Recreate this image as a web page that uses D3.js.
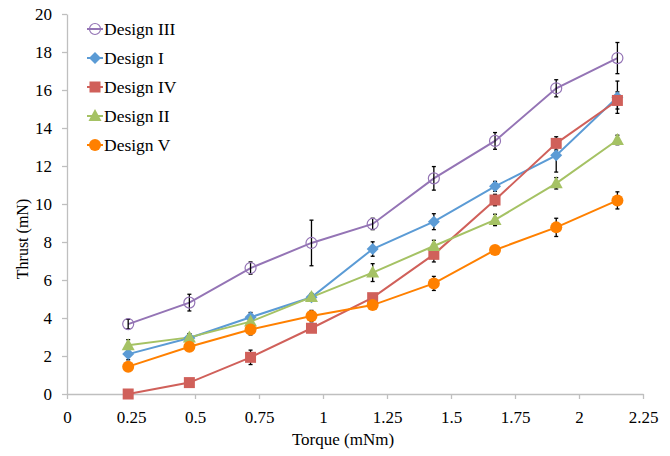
<!DOCTYPE html>
<html><head><meta charset="utf-8">
<script src="https://cdn.jsdelivr.net/npm/d3@7"></script>
<style>body{margin:0;background:#fff;} svg{display:block;} text{font-family:"Liberation Serif","DejaVu Serif","Times New Roman",serif;}</style>
</head><body>
<svg id="c" width="670" height="456"></svg>
<script>
const torque = [0.239, 0.478, 0.717, 0.955, 1.194, 1.433, 1.672, 1.911, 2.15];
const seriesNames = ["Design III", "Design I", "Design IV", "Design II", "Design V"];
const designIII = [3.68, 4.81, 6.63, 7.95, 8.95, 11.35, 13.32, 16.09, 17.68];
const designIIIerr = [0.25, 0.44, 0.32, 1.2, 0.3, 0.62, 0.44, 0.45, 0.82];
const designI = [2.1, 2.95, 4.04, 5.09, 7.63, 9.07, 10.93, 12.56, 15.62];
const designIerr = [0.3, 0.2, 0.25, 0.2, 0.38, 0.42, 0.26, 0.88, 0.85];
const designIV = [0.0, 0.6, 1.93, 3.46, 5.07, 7.35, 10.21, 13.19, 15.45];
const designIVerr = [0.15, 0.2, 0.38, 0.2, 0.2, 0.4, 0.3, 0.35, 0.45];
const designII = [2.56, 2.98, 3.81, 5.1, 6.39, 7.79, 9.16, 11.09, 13.37];
const designIIerr = [0.3, 0.2, 0.25, 0.15, 0.47, 0.3, 0.3, 0.3, 0.25];
const designV = [1.44, 2.49, 3.39, 4.1, 4.68, 5.82, 7.58, 8.77, 10.19];
const designVerr = [0.2, 0.2, 0.28, 0.3, 0.15, 0.37, 0.2, 0.48, 0.45];
const xTicks = [0, 0.25, 0.5, 0.75, 1, 1.25, 1.5, 1.75, 2, 2.25];
const yTicks = [0, 2, 4, 6, 8, 10, 12, 14, 16, 18, 20];

const series = [
  {name: seriesNames[0], values: designIII, err: designIIIerr, color: "#9474B5", marker: "openCircle"},
  {name: seriesNames[1], values: designI, err: designIerr, color: "#5B9BD5", marker: "diamond"},
  {name: seriesNames[2], values: designIV, err: designIVerr, color: "#D0605A", marker: "square"},
  {name: seriesNames[3], values: designII, err: designIIerr, color: "#A5C264", marker: "triangle"},
  {name: seriesNames[4], values: designV, err: designVerr, color: "#FF8000", marker: "circle"}
];

const svg = d3.select("#c");
const font = "Liberation Serif, DejaVu Serif, serif";
const x = d3.scaleLinear().domain([0, 2.25]).range([67, 643]);
const y = d3.scaleLinear().domain([0, 20]).range([394, 14]);

const xAxis = svg.append("g").attr("transform", "translate(0,394)")
  .call(d3.axisBottom(x).tickValues(xTicks).tickSize(5).tickSizeOuter(0).tickFormat(d => d3.format("")(d)));
const yAxis = svg.append("g").attr("transform", "translate(67,0)")
  .call(d3.axisLeft(y).tickValues(yTicks).tickSize(5).tickSizeOuter(0));
[xAxis, yAxis].forEach(a => {
  a.attr("font-family", font).attr("font-size", 17);
  a.select(".domain").attr("stroke", "#BFBFBF").attr("stroke-width", 1.3);
  a.selectAll(".tick line").attr("stroke", "#BFBFBF").attr("stroke-width", 1.3);
  a.selectAll(".tick text").attr("fill", "#000");
});
xAxis.selectAll(".tick text").attr("dy", "0").attr("y", 29);
yAxis.selectAll(".tick text").attr("x", -15).attr("dy", "0.33em");

svg.append("text").attr("x", 343).attr("y", 445).attr("text-anchor", "middle")
  .attr("font-family", font).attr("font-size", 17).text("Torque (mNm)");
svg.append("text").attr("transform", "translate(28,239) rotate(-90)").attr("text-anchor", "middle")
  .attr("font-family", font).attr("font-size", 16).text("Thrust (mN)");

function drawMarker(g, type, color) {
  if (type === "openCircle") {
    g.append("circle").attr("r", 5.5).attr("fill", "none").attr("stroke", color).attr("stroke-width", 1.2);
  } else if (type === "circle") {
    g.append("circle").attr("r", 6).attr("fill", color);
  } else if (type === "square") {
    g.append("rect").attr("x", -5.5).attr("y", -5.5).attr("width", 11).attr("height", 11).attr("fill", color);
  } else if (type === "diamond") {
    g.append("path").attr("d", "M0,-6L6,0L0,6L-6,0Z").attr("fill", color);
  } else if (type === "triangle") {
    g.append("path").attr("d", "M0,-7L6.5,5L-6.5,5Z").attr("fill", color);
  }
}

const line = d3.line().x((d, i) => x(torque[i])).y(d => y(d));

series.forEach(s => {
  svg.append("path").datum(s.values).attr("d", line)
    .attr("fill", "none").attr("stroke", s.color).attr("stroke-width", 2);
});
series.forEach(s => {
  const g = svg.append("g");
  s.values.forEach((v, i) => {
    const cx = x(torque[i]);
    const y1 = y(v + s.err[i]), y2 = y(Math.max(0, v - s.err[i]));
    g.append("line").attr("x1", cx).attr("x2", cx).attr("y1", y1).attr("y2", y2).attr("stroke", "#000").attr("stroke-width", 1.3);
    g.append("line").attr("x1", cx - 2).attr("x2", cx + 2).attr("y1", y1).attr("y2", y1).attr("stroke", "#000").attr("stroke-width", 1.3);
    g.append("line").attr("x1", cx - 2).attr("x2", cx + 2).attr("y1", y2).attr("y2", y2).attr("stroke", "#000").attr("stroke-width", 1.3);
  });
});
series.forEach(s => {
  s.values.forEach((v, i) => {
    const g = svg.append("g").attr("transform", `translate(${x(torque[i])},${y(v)})`);
    drawMarker(g, s.marker, s.color);
  });
});

series.forEach((s, i) => {
  const ly = 29 + i * 29;
  svg.append("line").attr("x1", 87).attr("x2", 103).attr("y1", ly).attr("y2", ly).attr("stroke", s.color).attr("stroke-width", 2);
  const g = svg.append("g").attr("transform", `translate(95,${ly})`);
  drawMarker(g, s.marker, s.color);
  svg.append("text").attr("x", 104).attr("y", ly).attr("dy", "0.35em")
    .attr("font-family", font).attr("font-size", 17.5).text(s.name);
});
</script>
</body></html>
